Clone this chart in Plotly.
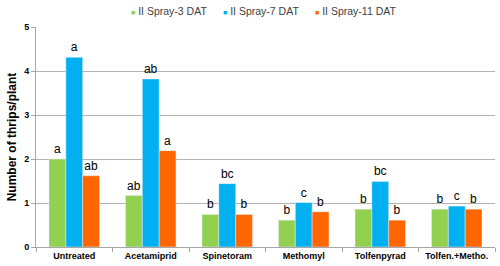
import plotly.graph_objects as go

categories = ["Untreated", "Acetamiprid", "Spinetoram", "Methomyl", "Tolfenpyrad", "Tolfen.+Metho."]
series_names = ["II Spray-3 DAT", "II Spray-7 DAT", "II Spray-11 DAT"]
spray3 = [2.0, 1.17, 0.74, 0.61, 0.86, 0.86]
spray7 = [4.31, 3.82, 1.44, 1.01, 1.49, 0.93]
spray11 = [1.62, 2.19, 0.74, 0.80, 0.61, 0.86]
letters3 = ["a", "ab", "b", "b", "b", "b"]
letters7 = ["a", "ab", "bc", "c", "bc", "c"]
letters11 = ["ab", "a", "b", "b", "b", "b"]
colors = ["#92D050", "#00B0F0", "#FF6600"]

fig = go.Figure()
for name, vals, lets, col in zip(series_names, [spray3, spray7, spray11],
                                 [letters3, letters7, letters11], colors):
    fig.add_trace(go.Bar(
        x=categories, y=vals, name=name, marker_color=col,
        text=lets, textposition="outside", cliponaxis=False,
        textfont=dict(family="Liberation Sans, Arial", size=12, color="#000"),
        showlegend=False,
    ))

# legend drawn as text entries with small coloured squares
legend_x = [0.2026, 0.402, 0.6035]
for name, col, lx in zip(series_names, colors, legend_x):
    fig.add_annotation(
        x=lx, y=1.073, xref="paper", yref="paper", xanchor="left", yanchor="middle",
        showarrow=False,
        text=f"<span style='font-size:7px;color:{col}'>■</span> {name}",
        font=dict(size=10.5, color="#404040", family="Liberation Sans, Arial"),
    )

fig.update_layout(
    width=500, height=266,
    margin=dict(l=36, r=5, t=27, b=19, autoexpand=False),
    paper_bgcolor="white", plot_bgcolor="white",
    barmode="group", bargap=0.34, bargroupgap=0,
    font=dict(family="Liberation Sans, Arial", color="#000"),
)
fig.update_xaxes(
    showline=True, linecolor="#A6A6A6", linewidth=1,
    ticks="outside", tickson="boundaries", ticklen=4, tickcolor="#A6A6A6",
    tickfont=dict(size=9, family="Liberation Sans, Arial", color="#000", weight="bold"),
)
fig.update_yaxes(
    range=[0, 5], dtick=1, showgrid=True, gridcolor="#B3B3B3", gridwidth=1,
    showline=True, linecolor="#A6A6A6", linewidth=1,
    ticks="outside", ticklen=4, tickcolor="#A6A6A6",
    tickfont=dict(size=9, family="Liberation Sans, Arial", color="#000", weight="bold"),
    title=dict(text="Number of thrips/plant", standoff=4,
               font=dict(size=12, family="Liberation Sans, Arial", color="#000", weight="bold")),
)

fig.write_html("out.html", config={"displayModeBar": False},
               post_script="document.body.style.margin='0';document.body.style.overflow='hidden';")
